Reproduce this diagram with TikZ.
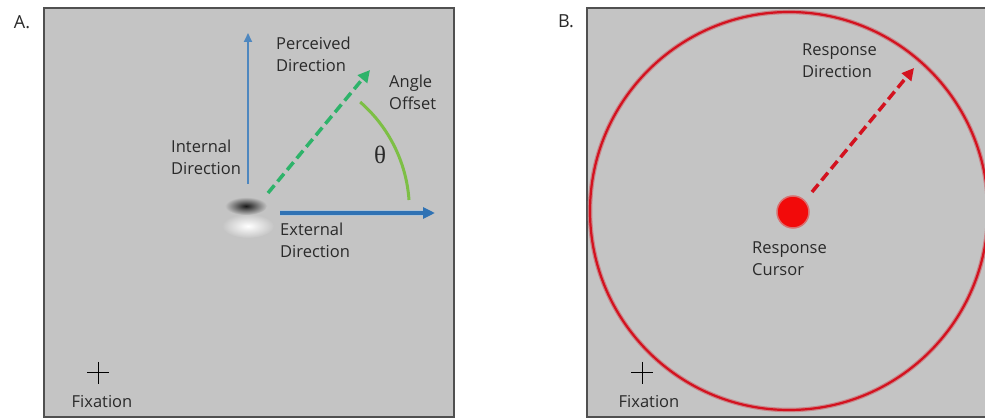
\documentclass[tikz,border=0pt]{standalone}
\usepackage{fontspec}
\setmainfont{Open Sans}
\newfontfamily\thetafont{Liberation Serif}
\usetikzlibrary{arrows.meta,calc}
\definecolor{bggray}{HTML}{C4C4C4}
\definecolor{framec}{HTML}{505050}
\definecolor{bluec}{HTML}{2F72B4}
\definecolor{blueglow}{HTML}{9CC3E6}
\definecolor{greenc}{HTML}{2EB36A}
\definecolor{arcc}{HTML}{7DBF45}
\definecolor{redc}{HTML}{D3121F}
\definecolor{dotred}{HTML}{F20A0A}
\definecolor{txt}{HTML}{2A2A2A}
\tikzset{
  lbl/.style={font=\fontsize{16.5}{22}\selectfont, text=txt, inner sep=0pt, align=left, anchor=west},
  clbl/.style={font=\fontsize{16.5}{22}\selectfont, text=txt, inner sep=0pt},
  plbl/.style={font=\fontsize{18}{20}\selectfont, text=txt, inner sep=0pt},
  panel/.style={fill=bggray},
  frameline/.style={draw=framec, line width=1.6pt},
  cross/.style={draw=black, line width=1pt},
  bluearrow/.style={draw=bluec, line width=3.5pt, -{Triangle[length=12pt, width=11pt]}},
  thinblue/.style={draw=bluec!85!white, line width=1.8pt, -{Triangle[length=9pt, width=8pt]}},
  greendash/.style={draw=greenc, line width=3.5pt, dash pattern=on 10pt off 5pt, -{Triangle[length=12pt, width=12pt]}},
  reddash/.style={draw=redc, line width=3.5pt, dash pattern=on 10pt off 5pt, -{Triangle[length=12pt, width=12pt]}},
}
\begin{document}
\begin{tikzpicture}[x=1pt, y=-1pt]
\useasboundingbox (0,0) rectangle (985,419);
\fill[white] (0,0) rectangle (985,419);
% Panel A
\fill[panel] (44,8) rectangle (454,417);
\draw[frameline] (44,8) rectangle (454,417);
\node[plbl] (labA) at (22,22) {A.};
% Gabor patch
\shade[inner color=white, outer color=bggray] (248,226) ellipse [x radius=26, y radius=12];
\shade[inner color=black!90, outer color=bggray] (246,206) ellipse [x radius=21, y radius=9];
% coordinates
\coordinate (vstart) at (248,184);
\coordinate (vend) at (248,33);
\coordinate (hstart) at (280,213);
\coordinate (hend) at (435,213);
\coordinate (hglow) at (425,213);
\coordinate (gstart) at (268,193);
\coordinate (gend) at (370,70);
\coordinate (arcstart) at (409,200);
% arrows
\draw[thinblue] (vstart) -- (vend);
\draw[draw=blueglow, line width=6pt, opacity=0.5] (hstart) -- (hglow);
\draw[bluearrow] (hstart) -- (hend);
\draw[greendash] (gstart) -- (gend);
\draw[draw=arcc, line width=3pt] (arcstart) arc[start angle=-4, end angle=-49, radius=143];
% labels A
\node[lbl] (perc) at (276,54.5) {Perceived\\Direction};
\node[lbl] (angle) at (389,92.5) {Angle\\Offset};
\node[lbl] (intl) at (171,157) {Internal\\Direction};
\node[lbl] (extl) at (280,240.5) {External\\Direction};
\node[inner sep=0pt, font=\thetafont\fontsize{25}{25}\selectfont, text=txt] (theta) at (380,155) {θ};
% fixation A
\coordinate (fxA) at (98,373);
\draw[cross] ($(fxA)+(-11,0)$) -- ($(fxA)+(11,0)$);
\draw[cross] ($(fxA)+(0,-11)$) -- ($(fxA)+(0,11)$);
\node[clbl] (fixA) at (102,402) {Fixation};
% Panel B
\fill[panel] (587,8) rectangle (985,417);
\draw[frameline] (985,8) -- (587,8) -- (587,417) -- (985,417);
\node[plbl] (labB) at (566,21) {B.};
\coordinate (cc) at (789,211);
\draw[draw=redc!35!bggray, line width=4.5pt] (cc) circle[radius=199];
\draw[draw=redc, line width=2.2pt] (cc) circle[radius=199];
\node[circle, fill=dotred, draw=dotred!45!bggray, line width=1.5pt, minimum size=32pt, inner sep=0pt] (cursor) at (793,212) {};
\coordinate (rstart) at (812,192);
\coordinate (rend) at (914,68);
\draw[reddash] (rstart) -- (rend);
\node[lbl] (respdir) at (802,61) {Response\\Direction};
\node[lbl] (respcur) at (752,259) {Response\\Cursor};
% fixation B
\coordinate (fxB) at (642,373);
\draw[cross] ($(fxB)+(-11,0)$) -- ($(fxB)+(11,0)$);
\draw[cross] ($(fxB)+(0,-11)$) -- ($(fxB)+(0,11)$);
\node[clbl] (fixB) at (649,402) {Fixation};
\end{tikzpicture}
\end{document}
